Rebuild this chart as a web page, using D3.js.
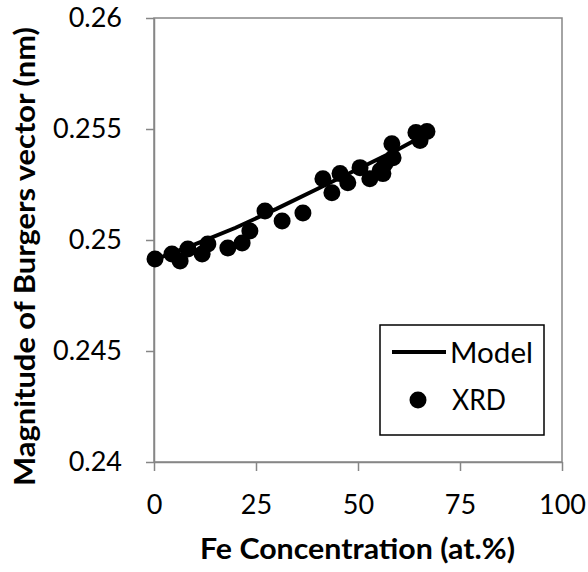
<!DOCTYPE html>
<html>
<head>
<meta charset="utf-8">
<script src="https://cdn.jsdelivr.net/npm/d3@7"></script>
<style>
  body { margin: 0; background: #fff; }
  svg { display: block; font-family: Lato, "Open Sans", sans-serif; }
</style>
</head>
<body>
<svg id="chart" width="588" height="572"></svg>
<script>
document.addEventListener("DOMContentLoaded", function() {

    // Data
    const xrdConc = [0.25, 4.4, 6.4, 8.3, 11.8, 13.2, 18.1, 21.6, 23.5, 27.2, 31.4, 36.5,
                     41.4, 43.6, 45.6, 47.5, 50.5, 52.9, 55.4, 56.6, 58.3, 58.6, 56.1,
                     64.2, 66.9, 65.2];
    const xrdB = [0.24914, 0.24937, 0.24905, 0.24959, 0.24937, 0.24982, 0.24964, 0.24986,
                  0.25041, 0.25131, 0.25086, 0.25122, 0.25276, 0.25213, 0.25299, 0.25258,
                  0.25326, 0.25276, 0.25312, 0.25344, 0.25434, 0.25371, 0.25299,
                  0.25484, 0.25489, 0.25448];
    const modelConc = [0, 10, 20, 30, 40, 50, 60, 66];
    const modelB = [0.2491, 0.2498, 0.25055, 0.2514, 0.2523, 0.2532, 0.2541, 0.2547];

    const xTicks = [0, 25, 50, 75, 100];
    const yTicks = [0.24, 0.245, 0.25, 0.255, 0.26];
    const yTickLabels = ["0.24", "0.245", "0.25", "0.255", "0.26"];

    // Layout
    const margin = {top: 18, left: 154};
    const graphWidth = 408, graphHeight = 444;
    const axisColor = "#868686";

    const svg = d3.select("#chart");
    const g = svg.append("g").attr("transform", `translate(${margin.left},${margin.top})`);

    const x = d3.scaleLinear().domain([0, 100]).range([0, graphWidth]);
    const y = d3.scaleLinear().domain([0.24, 0.26]).range([graphHeight, 0]);

    // Plot frame
    g.append("rect")
        .attr("width", graphWidth).attr("height", graphHeight)
        .attr("fill", "none").attr("stroke", axisColor).attr("stroke-width", 1.5);

    // Axes
    const xAxis = g.append("g")
        .attr("transform", `translate(0,${graphHeight})`)
        .call(d3.axisBottom(x).tickValues(xTicks).tickSize(9).tickSizeOuter(0).tickPadding(24));
    const yAxis = g.append("g")
        .call(d3.axisLeft(y).tickValues(yTicks).tickSize(8).tickSizeOuter(0).tickPadding(24)
            .tickFormat((d, i) => yTickLabels[i]));

    [xAxis, yAxis].forEach(a => {
        a.select(".domain").attr("stroke", axisColor).attr("stroke-width", 1.5);
        a.selectAll(".tick line").attr("stroke", axisColor).attr("stroke-width", 1.5);
        a.selectAll(".tick text")
            .attr("fill", "#000")
            .style("font-family", "Lato, sans-serif")
            .style("font-size", "27px");
    });

    // Model line
    const line = d3.line().x(d => x(d[0])).y(d => y(d[1]));
    g.append("path")
        .datum(modelConc.map((c, i) => [c, modelB[i]]))
        .attr("d", line)
        .attr("fill", "none")
        .attr("stroke", "#000")
        .attr("stroke-width", 4);

    // XRD points
    g.selectAll("circle.xrd")
        .data(xrdConc.map((c, i) => [c, xrdB[i]]))
        .enter().append("circle")
        .attr("class", "xrd")
        .attr("cx", d => x(d[0]))
        .attr("cy", d => y(d[1]))
        .attr("r", 8.5)
        .attr("fill", "#000");

    // Axis titles
    svg.append("text")
        .attr("x", 357.5)
        .attr("y", 559)
        .attr("text-anchor", "middle")
        .attr("textLength", 315)
        .attr("lengthAdjust", "spacingAndGlyphs")
        .style("font-size", "28px")
        .style("font-weight", "bold")
        .text("Fe Concentration (at.%)");

    svg.append("text")
        .attr("transform", "translate(35,256.5) rotate(-90)")
        .attr("text-anchor", "middle")
        .attr("textLength", 459)
        .attr("lengthAdjust", "spacingAndGlyphs")
        .style("font-size", "28px")
        .style("font-weight", "bold")
        .text("Magnitude of Burgers vector (nm)");

    // Legend
    const legend = svg.append("g");
    legend.append("rect")
        .attr("x", 380).attr("y", 325).attr("width", 164).attr("height", 110)
        .attr("fill", "#fff").attr("stroke", "#000").attr("stroke-width", 1.5);
    legend.append("line")
        .attr("x1", 392).attr("x2", 446).attr("y1", 352).attr("y2", 352)
        .attr("stroke", "#000").attr("stroke-width", 4);
    legend.append("text")
        .attr("x", 450).attr("y", 363)
        .attr("textLength", 83)
        .attr("lengthAdjust", "spacingAndGlyphs")
        .style("font-size", "28px")
        .text("Model");
    legend.append("circle")
        .attr("cx", 418).attr("cy", 400).attr("r", 8.5).attr("fill", "#000");
    legend.append("text")
        .attr("x", 452).attr("y", 410)
        .attr("textLength", 54)
        .attr("lengthAdjust", "spacingAndGlyphs")
        .style("font-size", "28px")
        .text("XRD");
});
</script>
</body>
</html>
